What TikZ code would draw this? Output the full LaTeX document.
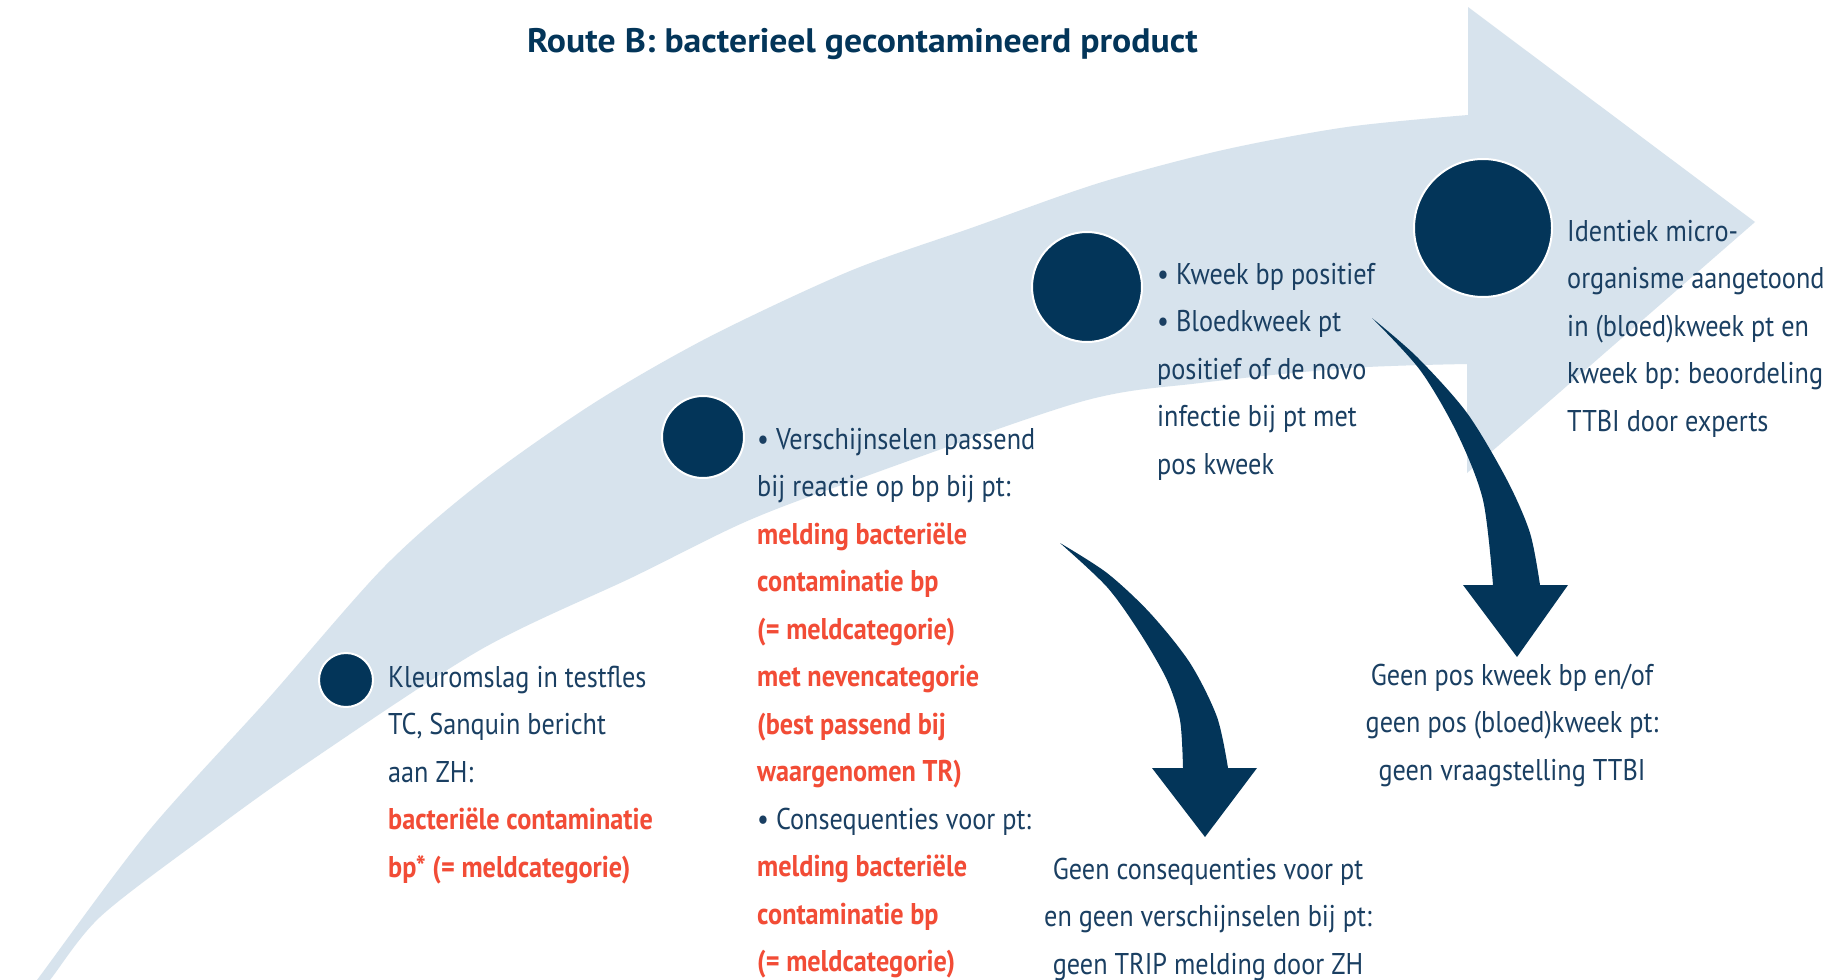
\documentclass[tikz,border=0pt]{standalone}
\usepackage{fontspec}
\setmainfont{PT Sans}[FakeStretch=0.875]
\newfontfamily\titlefont{PT Sans}[FakeStretch=1.05]
\definecolor{navy}{HTML}{033559}
\definecolor{txt}{HTML}{1A3F62}
\definecolor{band}{HTML}{D7E3ED}
\definecolor{tred}{HTML}{F24C36}
\newcommand{\blkL}[1]{\begin{tabular}[t]{@{}l@{}}#1\end{tabular}}
\newcommand{\blkC}[1]{\begin{tabular}[t]{@{}c@{}}#1\end{tabular}}
\newcommand{\rd}[1]{{\bfseries\color{tred}#1}}
\begin{document}
\begin{tikzpicture}[x=1pt,y=-1pt,
  txtblock/.style={inner sep=0pt, text=txt, font=\fontsize{30}{47.5}\selectfont, anchor=base west},
  ctrblock/.style={txtblock, anchor=base},
  dot/.style={circle, fill=navy, draw=white, line width=2pt, inner sep=0pt},
  bandfill/.style={fill=band},
  curvearrow/.style={fill=navy}]
\useasboundingbox (0,0) rectangle (1837,980);
\fill[white] (0,0) rectangle (1837,980);
% big light band arrow
\begin{scope}
\clip (0,0) rectangle (1837,980);
\fill[bandfill] plot[smooth, tension=0.5] coordinates {(14,1010) (37,980) (147,833) (267,700) (384,567) (480,483) (594,403) (709,337) (850,271) (974,227) (1099,183) (1223,150) (1347,127) (1468,115)}
  -- (1468,7) -- (1755,222) -- (1467,473)
  -- plot[smooth, tension=0.5] coordinates {(1467,364) (1350,368) (1200,383) (1080,402) (850,482) (745,522) (633,577) (480,650) (300,768) (200,840) (100,917) (50,980) (26,1010)} -- cycle;
\end{scope}
% title
\node[anchor=base west, inner sep=0pt, text=navy, font=\titlefont\fontsize{34}{40}\selectfont\bfseries] (title) at (527,52) {Route B: bacterieel gecontamineerd product};
% circles
\node[dot, minimum size=54pt] (c1) at (346,680) {};
\node[dot, minimum size=82pt] (c2) at (703,437) {};
\node[dot, minimum size=110pt] (c3) at (1087,287) {};
\node[dot, minimum size=138pt] (c4) at (1483,228) {};
% curved arrows
\coordinate (a1s) at (1060,543);
\coordinate (a1t) at (1205,837);
\coordinate (a2s) at (1372,318);
\coordinate (a2t) at (1517,657);
\fill[curvearrow] plot[smooth] coordinates {(a1s) (1107,573) (1150,613) (1190,663) (1217,717) (1228,768)}
  -- (1257,768) -- (a1t) -- (1152,768)
  -- plot[smooth] coordinates {(1183,768) (1180,720) (1167,680) (1140,633) (1107,587) (a1s)} -- cycle;
\fill[curvearrow] plot[smooth] coordinates {(a2s) (1417,357) (1467,413) (1507,480) (1530,533) (1540,585)}
  -- (1568,585) -- (a2t) -- (1463,585)
  -- plot[smooth] coordinates {(1493,585) (1483,500) (1457,433) (1420,370) (a2s)} -- cycle;
% text blocks
\node[txtblock] (b1) at (388,687) {\blkL{Kleuromslag in testfles\\ TC, Sanquin bericht\\ aan ZH:\\ \rd{bacteriële contaminatie}\\ \rd{bp* (= meldcategorie)}}};
\node[txtblock] (b2) at (757,449) {\blkL{• Verschijnselen passend\\ bij reactie op bp bij pt:\\ \rd{melding bacteriële}\\ \rd{contaminatie bp}\\ \rd{(= meldcategorie)}\\ \rd{met nevencategorie}\\ \rd{(best passend bij}\\ \rd{waargenomen TR)}\\ • Consequenties voor pt:\\ \rd{melding bacteriële}\\ \rd{contaminatie bp}\\ \rd{(= meldcategorie)}}};
\node[txtblock] (b3) at (1157,284) {\blkL{• Kweek bp positief\\ • Bloedkweek pt\\ positief of de novo\\ infectie bij pt met\\ pos kweek}};
\node[txtblock] (b4) at (1567,241) {\blkL{Identiek micro-\\ organisme aangetoond\\ in (bloed)kweek pt en\\ kweek bp: beoordeling\\ TTBI door experts}};
\node[ctrblock] (b5) at (1512,685) {\blkC{Geen pos kweek bp en/of\\ geen pos (bloed)kweek pt:\\ geen vraagstelling TTBI}};
\node[ctrblock] (b6) at (1208,879) {\blkC{Geen consequenties voor pt\\ en geen verschijnselen bij pt:\\ geen TRIP melding door ZH}};
\end{tikzpicture}
\end{document}
